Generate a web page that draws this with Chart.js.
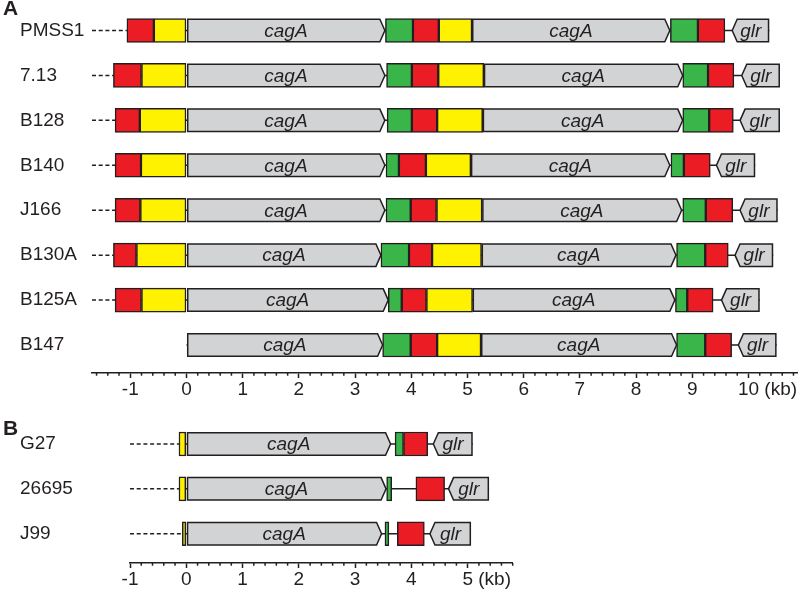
<!DOCTYPE html>
<html>
<head>
<meta charset="utf-8">
<script src="https://cdn.jsdelivr.net/npm/chart.js@4.4.1/dist/chart.umd.min.js"></script>
<style>
body { margin: 0; background: #fff; width: 800px; height: 590px; overflow: hidden; position: relative; }
#chartA { position: absolute; left: 0; top: 0; }
#chartB { position: absolute; left: 0; top: 400px; }
</style>
</head>
<body>
<canvas id="chartA" width="800" height="400"></canvas>
<canvas id="chartB" width="800" height="190"></canvas>
<script>
var FONT = '"Liberation Sans", Arial, Helvetica, sans-serif';
var INK = '#231f20';
var RED = '#ec1c24', YELLOW = '#fff200', GREEN = '#39b54a', GREY = '#d1d3d4';

// ---- panel A (kb, [start, end]) ----
var strainsA = ['PMSS1', '7.13', 'B128', 'B140', 'J166', 'B130A', 'B125A', 'B147'];
var upstreamA = [true, true, true, true, true, true, true, false];
var red1A = [[-1.06, -0.58], [-1.30, -0.80], [-1.27, -0.83], [-1.27, -0.81], [-1.27, -0.82], [-1.30, -0.89], [-1.27, -0.80], null];
var yellow1A = [[-0.58, 0], [-0.80, 0], [-0.83, 0], [-0.81, 0], [-0.82, 0], [-0.89, 0], [-0.80, 0], null];
var cagA1A = [[0, 3.53], [0, 3.53], [0, 3.53], [0, 3.53], [0, 3.53], [0, 3.46], [0, 3.59], [0, 3.49]];
var green1A = [[3.54, 4.03], [3.56, 4.01], [3.57, 4.01], [3.55, 3.78], [3.55, 3.99], [3.46, 3.96], [3.59, 3.83], [3.49, 3.99]];
var red2A = [[4.03, 4.49], [4.01, 4.48], [4.01, 4.46], [3.78, 4.26], [3.99, 4.45], [3.96, 4.37], [3.83, 4.27], [3.99, 4.46]];
var yellow2A = [[4.49, 5.08], [4.48, 5.29], [4.46, 5.27], [4.26, 5.06], [4.45, 5.26], [4.37, 5.25], [4.27, 5.09], [4.46, 5.24]];
var cagA2A = [[5.08, 8.60], [5.29, 8.83], [5.27, 8.83], [5.06, 8.60], [5.26, 8.81], [5.25, 8.71], [5.09, 8.69], [5.24, 8.72]];
var green2A = [[8.61, 9.10], [8.83, 9.28], [8.83, 9.30], [8.62, 8.85], [8.83, 9.24], [8.72, 9.23], [8.70, 8.91], [8.72, 9.23]];
var red3A = [[9.10, 9.58], [9.28, 9.74], [9.30, 9.73], [8.85, 9.32], [9.24, 9.72], [9.23, 9.64], [8.91, 9.37], [9.23, 9.70]];
var glrA = [[9.71, 10.37], [9.88, 10.56], [9.85, 10.56], [9.43, 10.12], [9.85, 10.52], [9.76, 10.44], [9.52, 10.20], [9.82, 10.50]];
var ticksA = [-1, 0, 1, 2, 3, 4, 5, 6, 7, 8, 9, 10];

// ---- panel B ----
var strainsB = ['G27', '26695', 'J99'];
var upstreamB = [true, true, true];
var yellowB = [[-0.13, 0], [-0.13, 0], [-0.07, 0]];
var cagAB = [[0, 3.63], [0, 3.55], [0, 3.47]];
var greenB = [[3.71, 3.86], [3.56, 3.65], [3.53, 3.60]];
var redB = [[3.86, 4.29], [4.08, 4.59], [3.75, 4.23]];
var glrB = [[4.39, 5.09], [4.66, 5.38], [4.33, 5.06]];
var ticksB = [-1, 0, 1, 2, 3, 4, 5];

function seg(rows, color, gene, arrow) {
    var data = [];
    rows.forEach(function (r, i) {
        if (r) data.push({ x: r, y: i });
    });
    return {
        data: data,
        backgroundColor: arrow ? 'rgba(0,0,0,0)' : color,
        borderColor: arrow ? 'rgba(0,0,0,0)' : INK,
        borderWidth: arrow ? 0 : 1.5,
        fillColor: color,
        gene: gene,
        arrow: arrow
    };
}

var genePlugin = {
    id: 'genes',
    beforeDatasetsDraw: function (chart, args, opts) {
        var ctx = chart.ctx, xs = chart.scales.x, ys = chart.scales.y;
        var n = opts.upstream.length;
        ctx.save();
        ctx.strokeStyle = INK;
        ctx.lineWidth = 1.5;
        for (var i = 0; i < n; i++) {
            var lo = Infinity, hi = -Infinity;
            chart.data.datasets.forEach(function (ds) {
                ds.data.forEach(function (d) {
                    if (d.y === i) { lo = Math.min(lo, d.x[0]); hi = Math.max(hi, d.x[1]); }
                });
            });
            var py = ys.getPixelForValue(i);
            // connector through the locus
            ctx.setLineDash([]);
            ctx.beginPath();
            ctx.moveTo(xs.getPixelForValue(lo), py);
            ctx.lineTo(xs.getPixelForValue(hi), py);
            ctx.stroke();
            // dashed upstream region
            if (opts.upstream[i]) {
                ctx.setLineDash([4, 2.7]);
                ctx.beginPath();
                ctx.moveTo(xs.left, py);
                ctx.lineTo(xs.getPixelForValue(lo), py);
                ctx.stroke();
            }
        }
        ctx.restore();
    },
    afterDatasetsDraw: function (chart) {
        var ctx = chart.ctx;
        ctx.save();
        chart.data.datasets.forEach(function (ds, di) {
            if (!ds.arrow) return;
            chart.getDatasetMeta(di).data.forEach(function (bar) {
                var p = bar.getProps(['x', 'y', 'base', 'height'], true);
                var l = Math.min(p.x, p.base), r = Math.max(p.x, p.base);
                var t = p.y - p.height / 2 + 0.75, b = p.y + p.height / 2 - 0.75;
                var head = 5;
                ctx.beginPath();
                if (ds.arrow === 'right') {
                    ctx.moveTo(l + 0.75, t);
                    ctx.lineTo(r - head, t);
                    ctx.lineTo(r, p.y);
                    ctx.lineTo(r - head, b);
                    ctx.lineTo(l + 0.75, b);
                } else {
                    ctx.moveTo(r - 0.75, t);
                    ctx.lineTo(l + head, t);
                    ctx.lineTo(l, p.y);
                    ctx.lineTo(l + head, b);
                    ctx.lineTo(r - 0.75, b);
                }
                ctx.closePath();
                ctx.fillStyle = ds.fillColor;
                ctx.fill();
                ctx.strokeStyle = INK;
                ctx.lineWidth = 1.5;
                ctx.lineJoin = 'miter';
                ctx.stroke();
                ctx.fillStyle = INK;
                ctx.font = 'italic 19px ' + FONT;
                ctx.textAlign = 'center';
                ctx.textBaseline = 'middle';
                ctx.fillText(ds.gene, (l + r) / 2, p.y + 1);
            });
        });
        ctx.restore();
    },
    afterDraw: function (chart, args, opts) {
        var ctx = chart.ctx, xs = chart.scales.x;
        ctx.save();
        // minor ticks every 0.2 kb
        ctx.strokeStyle = INK;
        ctx.lineWidth = 1.5;
        for (var k = Math.ceil(xs.min * 5 - 1e-6); k <= Math.floor(xs.max * 5 + 1e-6); k++) {
            if (k % 5 === 0) continue;
            var px = xs.getPixelForValue(k / 5);
            ctx.beginPath();
            ctx.moveTo(px, xs.top);
            ctx.lineTo(px, xs.top + 2.7);
            ctx.stroke();
        }
        // unit after the last tick label
        ctx.fillStyle = INK;
        ctx.font = '19px ' + FONT;
        ctx.textBaseline = 'middle';
        ctx.textAlign = 'left';
        var last = xs.ticks[xs.ticks.length - 1].value;
        var lx = xs.getPixelForValue(last) + ctx.measureText(String(last)).width / 2 + ctx.measureText(' ').width;
        ctx.fillText('(kb)', lx, xs.top + 5 + 11.4);
        // panel letter
        ctx.font = 'bold 21px ' + FONT;
        ctx.textBaseline = 'alphabetic';
        ctx.fillText(opts.letter, 3, opts.letterY);
        ctx.restore();
    }
};

function noPad(a) {
    a.paddingTop = 0;
    a.paddingBottom = 0;
    a.paddingLeft = 0;
    a.paddingRight = 0;
}

function makeChart(id, strains, upstream, datasets, ticks, xr, yr, yWidth, pad, letter, letterY) {
    return new Chart(document.getElementById(id), {
        type: 'bar',
        data: { datasets: datasets },
        plugins: [genePlugin],
        options: {
            indexAxis: 'y',
            responsive: false,
            animation: false,
            events: [],
            layout: { padding: pad },
            datasets: { bar: { grouped: false, barThickness: 24, borderSkipped: false } },
            plugins: {
                legend: { display: false },
                tooltip: { enabled: false },
                genes: { upstream: upstream, letter: letter, letterY: letterY }
            },
            scales: {
                x: {
                    type: 'linear',
                    min: xr[0],
                    max: xr[1],
                    offset: false,
                    afterBuildTicks: function (a) { a.ticks = ticks.map(function (v) { return { value: v }; }); },
                    afterFit: function (a) { a.height = 27; noPad(a); },
                    ticks: {
                        autoSkip: false,
                        maxRotation: 0,
                        padding: 0,
                        color: INK,
                        font: { family: FONT, size: 19 },
                        callback: function (v) { return String(v); }
                    },
                    grid: { drawOnChartArea: false, drawTicks: true, tickLength: 5, tickColor: INK, tickWidth: 1.5 },
                    border: { display: true, color: INK, width: 1.5 }
                },
                y: {
                    type: 'linear',
                    reverse: true,
                    min: yr[0],
                    max: yr[1],
                    offset: false,
                    afterBuildTicks: function (a) { a.ticks = strains.map(function (s, i) { return { value: i }; }); },
                    afterFit: function (a) { a.width = yWidth; noPad(a); },
                    ticks: {
                        autoSkip: false,
                        crossAlign: 'far',
                        padding: 0,
                        color: INK,
                        font: { family: FONT, size: 19 },
                        callback: function (v) { return strains[v]; }
                    },
                    grid: { display: false, offset: false },
                    border: { display: false }
                }
            }
        }
    });
}

makeChart('chartA', strainsA, upstreamA, [
    seg(red1A, RED), seg(yellow1A, YELLOW), seg(cagA1A, GREY, 'cagA', 'right'),
    seg(green1A, GREEN), seg(red2A, RED), seg(yellow2A, YELLOW), seg(cagA2A, GREY, 'cagA', 'right'),
    seg(green2A, GREEN), seg(red3A, RED), seg(glrA, GREY, 'glr', 'left')
], ticksA, [-1.681, 10.863], [-0.679, 7.623], 72, { left: 20, right: 3, top: 0, bottom: 0 }, 'A', 15);

makeChart('chartB', strainsB, upstreamB, [
    seg(yellowB, YELLOW), seg(cagAB, GREY, 'cagA', 'right'), seg(greenB, GREEN),
    seg(redB, RED), seg(glrB, GREY, 'glr', 'left')
], ticksB, [-1, 5.80], [-0.981, 2.653], 110, { left: 20, right: 287.3, top: 0, bottom: 0 }, 'B', 35);
</script>
</body>
</html>
